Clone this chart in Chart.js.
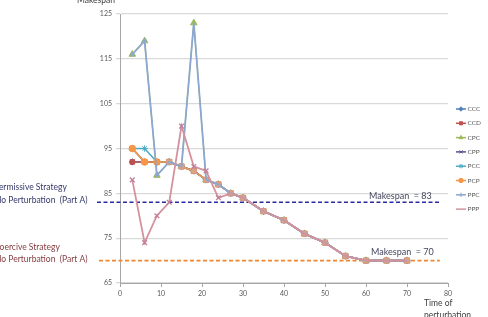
<!DOCTYPE html>
<html>
<head>
<meta charset="utf-8">
<script src="https://cdn.jsdelivr.net/npm/chart.js@4"></script>
<style>
  html, body { margin: 0; padding: 0; background: #fff; }
  #wrap { width: 488px; height: 317px; }
</style>
</head>
<body>
<div id="wrap"><canvas id="chart" width="488" height="317"></canvas></div>
<script>
// --- Data ---
const times = [3, 6, 9, 12, 15, 18, 21, 24, 27, 30, 35, 40, 45, 50, 55, 60, 65, 70];
const seriesNames = ['CCC', 'CCD', 'CPC', 'CPP', 'PCC', 'PCP', 'PPC', 'PPP'];

const ccc = [92, 92, 92, 92, 91, 90, 88, 87, 85, 84, 81, 79, 76, 74, 71, 70, 70, 70];
const ccd = [92, 92, 92, 92, 91, 90, 88, 87, 85, 84, 81, 79, 76, 74, 71, 70, 70, 70];
const cpc = [116, 119, 89, 92, 91, 123, 88, 87, 85, 84, 81, 79, 76, 74, 71, 70, 70, 70];
const cpp = [95, 92, 92, 92, 91, 90, 88, 87, 85, 84, 81, 79, 76, 74, 71, 70, 70, 70];
const pcc = [95, 95, 92, 92, 91, 90, 88, 87, 85, 84, 81, 79, 76, 74, 71, 70, 70, 70];
const pcp = [95, 92, 92, 92, 91, 90, 88, 87, 85, 84, 81, 79, 76, 74, 71, 70, 70, 70];
const ppc = [116, 119, 89, 92, 91, 123, 88, 87, 85, 84, 81, 79, 76, 74, 71, 70, 70, 70];
const ppp = [88, 74, 80, 83, 100, 91, 90, 84, 85, 84, 81, 79, 76, 74, 71, 70, 70, 70];

const yTicks = [65, 75, 85, 95, 105, 115, 125];
const xTicks = [0, 10, 20, 30, 40, 50, 60, 70, 80];

const permissiveLevel = 83;
const coerciveLevel = 70;
const refLineEnd = 78;

// --- Styles ---
const FONT = 'Lato, "Open Sans", sans-serif';
const styles = [
    { color: '#4F81BD', marker: 'rectRot' },
    { color: '#C0504D', marker: 'rect' },
    { color: '#9BBB59', marker: 'triangle' },
    { color: '#5B4E8C', marker: 'crossRot' },
    { color: '#4BACC6', marker: 'star' },
    { color: '#F79646', marker: 'circle' },
    { color: '#8DA8D0', marker: 'cross' },
    { color: '#D4929E', marker: false }
];

const allSeries = [ccc, ccd, cpc, cpp, pcc, pcp, ppc, ppp];

function toPoints(vals) {
    return times.map((t, i) => ({ x: t, y: vals[i] }));
}

const datasets = allSeries.map((vals, i) => ({
    label: seriesNames[i],
    data: toPoints(vals),
    borderColor: styles[i].color,
    backgroundColor: styles[i].color,
    pointStyle: styles[i].marker || 'circle',
    pointRadius: 3.2,
    pointBorderWidth: 1,
    borderWidth: 1.6,
    order: allSeries.length - i
}));

// PCP: squares after the first few points (tan markers on the shared tail)
datasets[5].pointStyle = ctx => ctx.dataIndex < 3 ? 'circle' : 'rect';
datasets[5].pointRadius = ctx => ctx.dataIndex < 3 ? 3.3 : 3.8;
datasets[5].pointBackgroundColor = ctx => ctx.dataIndex < 3 ? '#F79646' : '#DFA183';
datasets[5].pointBorderColor = ctx => ctx.dataIndex < 3 ? '#F79646' : '#D39A82';
// CPC triangles a little bigger so they show under the blue line
datasets[2].pointRadius = 3.8;
datasets[2].borderWidth = 1.2;
// PPC: small plus markers only where it stands apart
datasets[6].pointRadius = ctx => ctx.dataIndex < 3 ? 2.5 : 0;
datasets[6].borderWidth = 1.8;
// PPP: mauve crosses where it differs, none on the shared tail
datasets[7].pointStyle = 'crossRot';
datasets[7].pointBorderColor = '#C07F98';
datasets[7].pointRadius = ctx => ctx.dataIndex < 8 ? 3.3 : 0;
datasets[7].pointBorderWidth = 1.3;
datasets[7].borderWidth = 1.8;

// --- Annotations / legend drawn by hand ---
const extrasPlugin = {
    id: 'extras',
    beforeDatasetsDraw(chart) {
        const { ctx, scales: { x, y } } = chart;
        const x0 = 97, x1 = x.getPixelForValue(refLineEnd);
        ctx.save();
        ctx.lineWidth = 1.6;
        ctx.setLineDash([4, 2.5]);
        ctx.strokeStyle = '#2A2AA0';
        let py = y.getPixelForValue(permissiveLevel);
        ctx.beginPath(); ctx.moveTo(x0, py); ctx.lineTo(x1, py); ctx.stroke();
        ctx.strokeStyle = '#F0862E';
        py = y.getPixelForValue(coerciveLevel);
        ctx.beginPath(); ctx.moveTo(x0 + 2, py); ctx.lineTo(x1, py); ctx.stroke();
        ctx.restore();
    },
    afterDraw(chart) {
        const { ctx, scales: { x, y } } = chart;
        ctx.save();
        ctx.textBaseline = 'middle';

        // side notes
        ctx.font = '8.5px ' + FONT;
        ctx.textAlign = 'left';
        ctx.fillStyle = '#34386A';
        ctx.fillText('Permissive Strategy', -6, 187);
        ctx.fillText('No Perturbation  (Part A)', -5, 200);
        ctx.fillStyle = '#843C40';
        ctx.fillText('Coercive Strategy', -6, 247);
        ctx.fillText('No Perturbation  (Part A)', -5, 259);

        // makespan labels
        ctx.font = '9px ' + FONT;
        ctx.fillStyle = '#44475E';
        ctx.fillText('Makespan  = 83', 369, y.getPixelForValue(permissiveLevel) - 6);
        ctx.fillText('Makespan  = 70', 371, y.getPixelForValue(coerciveLevel) - 8);

        // axis titles
        ctx.font = '8.5px ' + FONT;
        ctx.fillStyle = '#404040';
        ctx.fillText('Makespan', 77, 0);
        ctx.fillText('Time of', 424, 303);
        ctx.fillText('perturbation', 424, 315);

        // legend
        ctx.font = '6.5px ' + FONT;
        datasets.forEach((ds, i) => {
            const ly = 109 + i * 14.3;
            const st = styles[i];
            ctx.strokeStyle = st.color;
            ctx.fillStyle = st.color;
            ctx.lineWidth = 1.5;
            ctx.setLineDash([]);
            ctx.beginPath(); ctx.moveTo(456, ly); ctx.lineTo(466, ly); ctx.stroke();
            if (st.marker) {
                ctx.lineWidth = 1;
                Chart.helpers.drawPoint(ctx, { pointStyle: st.marker, radius: 2.2, rotation: 0, borderWidth: 1 }, 461, ly);
            }
            ctx.fillStyle = '#595959';
            ctx.fillText(ds.label, 467.5, ly);
        });
        ctx.restore();
    }
};

new Chart(document.getElementById('chart'), {
    type: 'line',
    data: { datasets },
    options: {
        responsive: false,
        animation: false,
        events: [],
        layout: { padding: { top: 14, right: 40, left: 0, bottom: 0 } },
        plugins: { legend: { display: false }, tooltip: { enabled: false } },
        scales: {
            x: {
                type: 'linear',
                min: 0, max: 80,
                afterBuildTicks: s => { s.ticks = xTicks.map(v => ({ value: v })); },
                afterFit: s => { s.height = 34; },
                grid: { drawOnChartArea: false, drawTicks: true, tickLength: 4, color: '#A6A6A6' },
                border: { color: '#A6A6A6' },
                ticks: { color: '#595959', font: { size: 7, family: FONT }, padding: 3, maxRotation: 0 }
            },
            y: {
                min: 65, max: 125,
                afterBuildTicks: s => { s.ticks = yTicks.map(v => ({ value: v })); },
                afterFit: s => { s.width = 120; },
                grid: { color: '#D9D9D9', lineWidth: 1.3, tickLength: 4 },
                border: { color: '#A6A6A6' },
                ticks: { color: '#595959', font: { size: 7, family: FONT }, padding: 4 }
            }
        }
    },
    plugins: [extrasPlugin]
});
</script>
</body>
</html>
